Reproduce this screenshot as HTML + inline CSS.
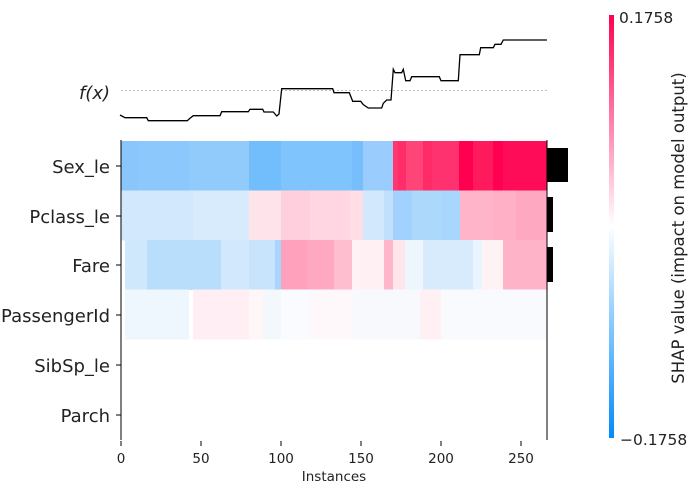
<!DOCTYPE html>
<html><head><meta charset="utf-8"><style>body{margin:0;background:#fff}svg{display:block}text{font-family:"DejaVu Sans","Liberation Sans",sans-serif;fill:#222}</style></head>
<body>
<svg width="689" height="492" viewBox="0 0 689 492">
<defs><linearGradient id="cb" x1="0" y1="1" x2="0" y2="0">
<stop offset="0" stop-color="#008bfb"/><stop offset="0.5" stop-color="#ffffff"/><stop offset="1" stop-color="#ff0052"/></linearGradient></defs>
<g shape-rendering="crispEdges">
<g transform="translate(0,141)">
<rect x="121" width="17" height="50" fill="#8ac6fb"/><rect x="138" width="51" height="50" fill="#8cc8fb"/><rect x="189" width="60" height="50" fill="#90cbfc"/><rect x="249" width="32" height="50" fill="#72bdfb"/><rect x="281" width="71" height="50" fill="#7fc4fc"/><rect x="352" width="11" height="50" fill="#76bffc"/><rect x="363" width="30" height="50" fill="#9acdfd"/><rect x="393" width="5" height="50" fill="#ff3670"/><rect x="398" width="8" height="50" fill="#ff2d6a"/><rect x="406" width="17" height="50" fill="#ff4577"/><rect x="423" width="9" height="50" fill="#ff2a68"/><rect x="432" width="27" height="50" fill="#ff3270"/><rect x="459" width="14" height="50" fill="#ff0050"/><rect x="473" width="20" height="50" fill="#ff1a5e"/><rect x="493" width="10" height="50" fill="#ff0052"/><rect x="503" width="44" height="50" fill="#ff0c58"/>
</g>
<g transform="translate(0,190.5)">
<rect x="121" width="72" height="50" fill="#d2e8fc"/><rect x="193" width="56" height="50" fill="#d7ebfd"/><rect x="249" width="32" height="50" fill="#ffe3ea"/><rect x="281" width="29" height="50" fill="#ffcfdd"/><rect x="310" width="40" height="50" fill="#ffd6e1"/><rect x="350" width="13" height="50" fill="#ffdee6"/><rect x="363" width="21" height="50" fill="#d2e8fc"/><rect x="384" width="9" height="50" fill="#c0e0fc"/><rect x="393" width="19" height="50" fill="#a1d2fd"/><rect x="412" width="29" height="50" fill="#acd8fc"/><rect x="441" width="19" height="50" fill="#a9d6fc"/><rect x="460" width="33" height="50" fill="#ffb4ca"/><rect x="493" width="23" height="50" fill="#ffafc6"/><rect x="516" width="31" height="50" fill="#ffa8c2"/>
</g>
<g transform="translate(0,240)">
<rect x="125" width="22" height="50" fill="#d0e8fc"/><rect x="147" width="74" height="50" fill="#b8defb"/><rect x="221" width="28" height="50" fill="#d2e8fc"/><rect x="249" width="26" height="50" fill="#c8e4fc"/><rect x="275" width="6" height="50" fill="#a7d5fd"/><rect x="281" width="26" height="50" fill="#ffa1bd"/><rect x="307" width="27" height="50" fill="#ffa8c2"/><rect x="334" width="18" height="50" fill="#ffbdd0"/><rect x="352" width="8" height="50" fill="#fff3f6"/><rect x="360" width="24" height="50" fill="#fff0f4"/><rect x="384" width="9" height="50" fill="#ffb6cb"/><rect x="393" width="12" height="50" fill="#ffe5ec"/><rect x="405" width="18" height="50" fill="#eef6fd"/><rect x="423" width="50" height="50" fill="#d8ebfd"/><rect x="473" width="9" height="50" fill="#e8f4fe"/><rect x="482" width="21" height="50" fill="#fff2f5"/><rect x="503" width="44" height="50" fill="#ffb3c9"/>
</g>
<g transform="translate(0,289.5)">
<rect x="125" width="64" height="50" fill="#eef6fe"/><rect x="193" width="56" height="50" fill="#ffeff4"/><rect x="249" width="14" height="50" fill="#fff6f8"/><rect x="263" width="18" height="50" fill="#f3f8fd"/><rect x="281" width="29" height="50" fill="#fafbfe"/><rect x="310" width="42" height="50" fill="#fff8fa"/><rect x="352" width="68" height="50" fill="#f7f9fd"/><rect x="420" width="21" height="50" fill="#fff0f4"/><rect x="441" width="106" height="50" fill="#f8fafe"/>
</g>
<rect x="547" y="148" width="21" height="34" fill="#000"/>
<rect x="547" y="197" width="6" height="35" fill="#000"/>
<rect x="547" y="247" width="6" height="35" fill="#000"/>
<line x1="121" y1="140" x2="121" y2="440" stroke="#000" stroke-width="1"/>
<line x1="547" y1="140" x2="547" y2="440" stroke="#000" stroke-width="1"/>
<g stroke="#000">
<line x1="116" y1="166" x2="121" y2="166"/><line x1="116" y1="216" x2="121" y2="216"/><line x1="116" y1="265" x2="121" y2="265"/><line x1="116" y1="315" x2="121" y2="315"/><line x1="116" y1="365" x2="121" y2="365"/><line x1="116" y1="415" x2="121" y2="415"/>
<line x1="121" y1="441" x2="121" y2="446"/><line x1="201" y1="441" x2="201" y2="446"/><line x1="281" y1="441" x2="281" y2="446"/><line x1="361" y1="441" x2="361" y2="446"/><line x1="441" y1="441" x2="441" y2="446"/><line x1="521" y1="441" x2="521" y2="446"/>
</g>
<rect x="609" y="15" width="5" height="423" fill="url(#cb)"/>
</g>
<line x1="121" y1="90.5" x2="547" y2="90.5" stroke="#aaa" stroke-width="0.8" stroke-dasharray="2,2"/>
<polyline fill="none" stroke="#000" stroke-width="1.3" points="120,115 125,117.7 146.7,117.7 148.3,120.7 187.3,120.7 190,118.3 193.3,115.7 220,115.7 221.7,111.7 248.3,111.7 250,109.3 262.7,109.3 264,112 273.3,112 276.7,116 279,114 281.7,88.7 332.7,88.7 334,92.7 349.3,92.7 352.7,101.3 360.7,101.3 363.3,104.7 368.3,108 381.7,108 383.3,103.3 386.7,100 391,100 393.3,69.3 395,72.7 401.7,72.7 403.3,69.3 405.7,80.7 410,80.7 411.7,76.7 439.3,76.7 441,80.7 458.3,80.7 460,54.7 479.3,54.7 480.7,47.7 493.3,47.7 495,44.3 501,44.3 503.3,40 547,40"/>
<text x="110" y="99" text-anchor="end" font-size="18" font-style="italic">f(x)</text>
<g font-size="18" text-anchor="end">
<text x="110" y="173">Sex_le</text><text x="110" y="223">Pclass_le</text><text x="110" y="272">Fare</text><text x="110" y="322">PassengerId</text><text x="110" y="372">SibSp_le</text><text x="110" y="422">Parch</text>
</g>
<g font-size="13.5" text-anchor="middle">
<text x="121" y="463">0</text><text x="201" y="463">50</text><text x="281" y="463">100</text><text x="361" y="463">150</text><text x="441" y="463">200</text><text x="521" y="463">250</text>
<text x="334" y="481">Instances</text>
</g>
<text x="619" y="23" font-size="15.5">0.1758</text>
<text x="620" y="445" font-size="15.5">−0.1758</text>
<text transform="translate(684,228) rotate(-90)" font-size="16.5" text-anchor="middle">SHAP value (impact on model output)</text>
</svg>
</body></html>
